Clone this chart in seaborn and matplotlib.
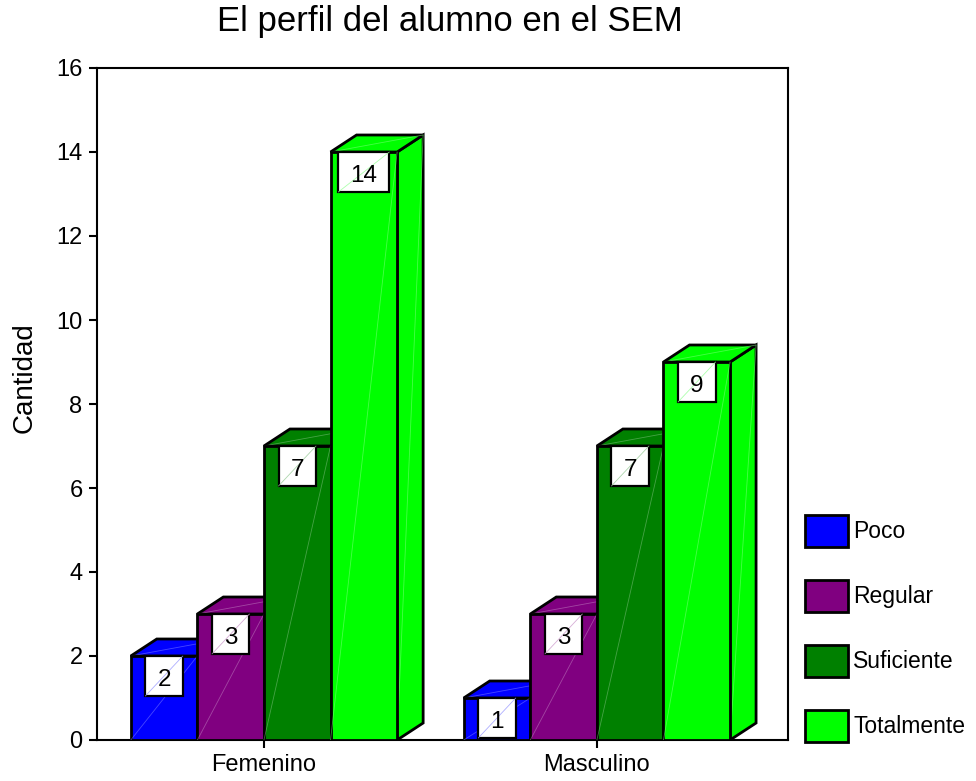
import numpy as np
import pandas as pd
import seaborn as sns
import matplotlib.pyplot as plt
import matplotlib.colors as mcolors
from matplotlib.patches import Polygon, Rectangle, Patch
from matplotlib.lines import Line2D

# ---- data -------------------------------------------------------------
sexo = ["Femenino", "Masculino"]
respuestas = ["Poco", "Regular", "Suficiente", "Totalmente"]
femenino = [2, 3, 7, 14]
masculino = [1, 3, 7, 9]
colores = ["#0000FF", "#800080", "#008000", "#00FF00"]
yticks = [0, 2, 4, 6, 8, 10, 12, 14, 16]
titulo = "El perfil del alumno en el SEM"
etiqueta_y = "Cantidad"

df = pd.DataFrame({
    "Sexo": np.repeat(sexo, len(respuestas)),
    "Respuesta": respuestas * len(sexo),
    "Cantidad": femenino + masculino,
})

# ---- style ------------------------------------------------------------
sns.set_theme(style="white")
plt.rcParams["font.family"] = ["Liberation Sans", "DejaVu Sans"]
plt.rcParams.update({
    "text.color": "black", "axes.labelcolor": "black",
    "xtick.color": "black", "ytick.color": "black",
    "axes.edgecolor": "black",
})

W, H, DPI = 976, 781, 100
fig = plt.figure(figsize=(W / DPI, H / DPI), dpi=DPI)
L, R, T, B = 96.5, 788, 68, 740
ax = fig.add_axes([L / W, 1 - B / H, (R - L) / W, (B - T) / H])

sns.barplot(data=df, x="Sexo", y="Cantidad", hue="Respuesta",
            order=sexo, hue_order=respuestas, palette=colores,
            saturation=1, width=0.8, edgecolor="black", linewidth=2,
            legend=False, ax=ax)

ax.set_xlim(-0.503, 1.574)
ax.set_ylim(yticks[0], yticks[-1])
ax.set_yticks(yticks)
ax.set_xlabel("")
ax.set_ylabel(etiqueta_y, fontsize=20)
ax.yaxis.set_label_coords(-0.085, 0.539)
ax.tick_params(axis="both", which="major", bottom=True, left=True,
               direction="out", length=6, width=1.5, labelsize=17, pad=4)
for s in ax.spines.values():
    s.set_linewidth(1.5)
    s.set_color("black")

fig.text(450 / W, 1 - 31 / H, titulo, ha="center", va="baseline", fontsize=25)

# ---- pseudo-3D extrusion of every bar ----------------------------------
DX, DY = 26, 17  # depth offset in pixels


def shift(x, y, dx=DX, dy=DY):
    px, py = ax.transData.transform((x, y))
    return tuple(ax.transData.inverted().transform((px + dx, py + dy)))


def light(c, f=0.55):
    r, g, b = mcolors.to_rgb(c)
    return (r + (1 - r) * f, g + (1 - g) * f, b + (1 - b) * f)


bars = sorted(ax.patches, key=lambda p: p.get_x())
fig.canvas.draw()
renderer = fig.canvas.get_renderer()

for k, bar in enumerate(bars):
    x0 = bar.get_x()
    x1 = x0 + bar.get_width()
    h = bar.get_height()
    col = bar.get_facecolor()
    base = 2 + 4 * k
    top = Polygon([(x0, h), (x1, h), shift(x1, h), shift(x0, h)],
                  closed=True, facecolor=col, edgecolor="black",
                  linewidth=2, joinstyle="miter", zorder=base)
    side = Polygon([(x1, 0), (x1, h), shift(x1, h), shift(x1, 0)],
                   closed=True, facecolor=col, edgecolor="black",
                   linewidth=2, joinstyle="miter", zorder=base)
    ax.add_patch(side)
    ax.add_patch(top)
    bar.set_zorder(base + 1)
    seam = light(col)
    ax.add_line(Line2D([x0, x1], [0, h], color=seam, lw=0.6, alpha=0.5,
                       zorder=base + 1.5))
    sx, sy = shift(x1, h)
    ax.add_line(Line2D([x0, sx], [h, sy], color=seam, lw=0.6, alpha=0.5,
                       zorder=base + 0.5))
    ax.add_line(Line2D([x1, sx], [0, sy], color=seam, lw=0.6, alpha=0.5,
                       zorder=base + 0.5))

    # value label in a white box hanging from the top of the bar
    xc = x0 + bar.get_width() / 2
    txt = ax.annotate(f"{h:g}", xy=(xc, h), xytext=(0, -30),
                      textcoords="offset pixels", ha="center",
                      va="baseline", fontsize=17.5, zorder=base + 3)
    tw = txt.get_window_extent(renderer).width
    bw, bh = tw + 24, 40
    cx, cy = ax.transData.transform((xc, h))
    (rx0, ry0) = ax.transData.inverted().transform((cx - bw / 2, cy - bh))
    (rx1, ry1) = ax.transData.inverted().transform((cx + bw / 2, cy))
    ax.add_patch(Rectangle((rx0, ry0), rx1 - rx0, ry1 - ry0,
                           facecolor="white", edgecolor="black",
                           linewidth=1.6, zorder=base + 2))
    ax.add_line(Line2D([rx0, rx1], [ry0, ry1], color=light(col, 0.6),
                       lw=0.6, alpha=0.8, zorder=base + 2.5))

# ---- legend -------------------------------------------------------------
handles = [Patch(facecolor=c, edgecolor="black", linewidth=2) for c in colores]
fig.legend(handles, respuestas, loc="upper left",
           bbox_to_anchor=(805 / W, 1 - 515 / H), frameon=False,
           fontsize=16.5, handlelength=1.88, handleheight=1.77,
           labelspacing=1.44, handletextpad=0.22, borderpad=0,
           borderaxespad=0)

fig.savefig("out.png", dpi=DPI)
